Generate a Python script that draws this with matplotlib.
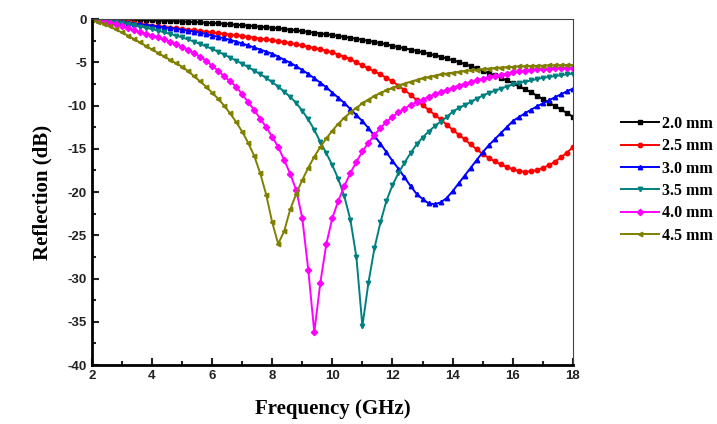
import numpy as np
import matplotlib.pyplot as plt
from matplotlib.ticker import MultipleLocator

plt.rcParams["axes.unicode_minus"] = False

# frequency grid, 0.2 GHz step
freq = np.arange(81) * 0.2 + 2.0

r_20 = [0, -0.01, -0.02, -0.03, -0.04, -0.06, -0.07, -0.09, -0.11, -0.13,
        -0.15, -0.17, -0.19, -0.22, -0.25, -0.28, -0.31, -0.34, -0.38, -0.42,
        -0.46, -0.5, -0.55, -0.6, -0.65, -0.7, -0.76, -0.82, -0.88, -0.94,
        -1.0, -1.07, -1.15, -1.23, -1.31, -1.4, -1.49, -1.58, -1.67, -1.76,
        -1.85, -1.95, -2.06, -2.17, -2.28, -2.4, -2.52, -2.65, -2.78, -2.92,
        -3.1, -3.24, -3.38, -3.53, -3.68, -3.85, -4.0, -4.18, -4.35, -4.55,
        -4.75, -4.95, -5.2, -5.45, -5.7, -6.0, -6.25, -6.5, -6.8, -7.1,
        -7.4, -7.75, -8.1, -8.45, -8.85, -9.25, -9.65, -10.05, -10.45, -10.85,
        -11.3]

r_25 = [0, -0.05, -0.1, -0.16, -0.22, -0.3, -0.38, -0.46, -0.55, -0.65,
        -0.75, -0.83, -0.91, -0.99, -1.07, -1.15, -1.23, -1.31, -1.39, -1.47,
        -1.55, -1.63, -1.71, -1.79, -1.87, -1.96, -2.05, -2.15, -2.25, -2.35,
        -2.45, -2.56, -2.67, -2.79, -2.92, -3.05, -3.19, -3.34, -3.5, -3.67,
        -3.85, -4.1, -4.35, -4.65, -5.0, -5.35, -5.7, -6.05, -6.4, -6.8,
        -7.2, -7.7, -8.2, -8.75, -9.35, -9.95, -10.5, -11.05, -11.6, -12.2,
        -12.8, -13.35, -13.9, -14.5, -15.05, -15.6, -16.05, -16.45, -16.8, -17.1,
        -17.35, -17.55, -17.65, -17.6, -17.45, -17.2, -16.9, -16.5, -16.0, -15.45,
        -14.8]

r_30 = [0, -0.06, -0.13, -0.2, -0.28, -0.36, -0.44, -0.52, -0.6, -0.68,
        -0.76, -0.85, -0.94, -1.03, -1.12, -1.22, -1.33, -1.45, -1.58, -1.72,
        -1.9, -2.05, -2.22, -2.4, -2.6, -2.82, -3.05, -3.28, -3.52, -3.76,
        -4.0, -4.35, -4.7, -5.05, -5.45, -5.9, -6.35, -6.85, -7.35, -7.9,
        -8.5, -9.1, -9.7, -10.4, -11.1, -11.8, -12.6, -13.5, -14.4, -15.4,
        -16.4, -17.3, -18.3, -19.3, -20.2, -20.8, -21.3, -21.4, -21.2, -20.7,
        -19.9, -19.0, -18.1, -17.2, -16.3, -15.4, -14.6, -13.9, -13.2, -12.5,
        -11.8, -11.35, -10.9, -10.5, -10.1, -9.75, -9.4, -9.05, -8.7, -8.35,
        -8.05]

r_35 = [0, -0.08, -0.17, -0.26, -0.36, -0.47, -0.59, -0.72, -0.86, -1.01,
        -1.17, -1.34, -1.52, -1.71, -1.91, -2.12, -2.35, -2.6, -2.87, -3.15,
        -3.45, -3.77, -4.1, -4.45, -4.8, -5.17, -5.55, -5.95, -6.37, -6.8,
        -7.3, -7.8, -8.4, -9.0, -9.7, -10.6, -11.6, -12.8, -14.2, -15.5,
        -16.9, -18.5, -20.5, -23.2, -27.5, -35.5, -30.5, -26.5, -23.5, -21.0,
        -19.2, -17.8, -16.6, -15.5, -14.5, -13.7, -13.0, -12.4, -11.85, -11.35,
        -10.7, -10.3, -9.95, -9.6, -9.2, -8.85, -8.55, -8.3, -8.05, -7.8,
        -7.55, -7.4, -7.25, -7.1, -6.95, -6.8, -6.7, -6.6, -6.5, -6.4,
        -6.3]

r_40 = [0, -0.1, -0.25, -0.4, -0.6, -0.85, -1.05, -1.3, -1.5, -1.7,
        -1.9, -2.1, -2.35, -2.6, -2.9, -3.2, -3.55, -3.95, -4.35, -4.8,
        -5.4, -5.95, -6.6, -7.2, -7.8, -8.7, -9.6, -10.5, -11.5, -12.5,
        -13.6, -14.8, -16.3, -17.9, -19.8, -23.0, -29.0, -36.2, -30.5, -26.0,
        -23.0, -21.0, -19.3, -17.8, -16.5, -15.3, -14.3, -13.4, -12.6, -11.9,
        -11.3, -10.8, -10.35, -9.95, -9.6, -9.3, -9.0, -8.7, -8.45, -8.2,
        -7.95, -7.7, -7.5, -7.3, -7.1, -6.9, -6.75, -6.6, -6.45, -6.3,
        -6.15, -6.05, -5.95, -5.88, -5.82, -5.76, -5.72, -5.68, -5.65, -5.62,
        -5.6]

r_45 = [-0.1, -0.3, -0.55, -0.85, -1.2, -1.55, -1.9, -2.3, -2.7, -3.1,
        -3.5, -3.9, -4.3, -4.7, -5.1, -5.5, -6.0, -6.6, -7.2, -7.8,
        -8.5, -9.2, -10.0, -10.9, -11.9, -13.0, -14.3, -15.8, -17.8, -20.3,
        -23.5, -26.0, -24.5, -22.0, -20.2, -18.6, -17.2, -15.9, -14.8, -13.8,
        -12.9, -12.1, -11.4, -10.8, -10.25, -9.75, -9.3, -8.9, -8.55, -8.25,
        -7.95, -7.7, -7.45, -7.25, -7.05, -6.85, -6.7, -6.55, -6.4, -6.3,
        -6.2, -6.1, -6.0, -5.92, -5.85, -5.78, -5.72, -5.66, -5.61, -5.56,
        -5.52, -5.48, -5.45, -5.42, -5.4, -5.38, -5.36, -5.34, -5.32, -5.31,
        -5.3]

labels = ["2.0 mm", "2.5 mm", "3.0 mm", "3.5 mm", "4.0 mm", "4.5 mm"]
series = [r_20, r_25, r_30, r_35, r_40, r_45]
colors = ["#000000", "#ff0000", "#0000ff", "#008080", "#ff00ff", "#808000"]
markers = ["s", "o", "^", "v", "D", "<"]


fig = plt.figure(figsize=(7.17, 4.24), dpi=100)
ax = fig.add_axes([0.128, 0.139, 0.671, 0.816])

for vals, lab, c, m in zip(series, labels, colors, markers):
    ax.plot(freq, vals, color=c, marker=m, markersize=3.2, linewidth=1.4,
            label=lab)

ax.set_xlim(2, 18)
ax.set_ylim(-40, 0)
ax.xaxis.set_major_locator(MultipleLocator(2))
ax.xaxis.set_minor_locator(MultipleLocator(1))
ax.yaxis.set_major_locator(MultipleLocator(5))
ax.yaxis.set_minor_locator(MultipleLocator(2.5))

ax.tick_params(which="both", direction="in", top=False, right=False,
               width=1.5, colors="#222222")
ax.tick_params(which="major", length=5)
ax.tick_params(which="minor", length=3)

for lbl in ax.get_xticklabels() + ax.get_yticklabels():
    lbl.set_fontfamily("Liberation Sans")
    lbl.set_fontweight("bold")
    lbl.set_fontsize(9.5)

ax.spines["left"].set_linewidth(2)
ax.spines["bottom"].set_linewidth(2)
ax.spines["top"].set_color("#444444")
ax.spines["right"].set_color("#444444")

ax.set_xlabel("Frequency (GHz)", fontfamily="Liberation Serif",
              fontweight="bold", fontsize=15, labelpad=12)
ax.set_ylabel("Reflection (dB)", fontfamily="Liberation Serif",
              fontweight="bold", fontsize=15, labelpad=11)

fig.legend(loc="center left", bbox_to_anchor=(0.846, 0.576), frameon=False,
           handlelength=2.4, labelspacing=0.4, handletextpad=0.2,
           prop={"family": "Liberation Serif", "weight": "bold", "size": 11.5})

plt.savefig("out.png", dpi=100)
